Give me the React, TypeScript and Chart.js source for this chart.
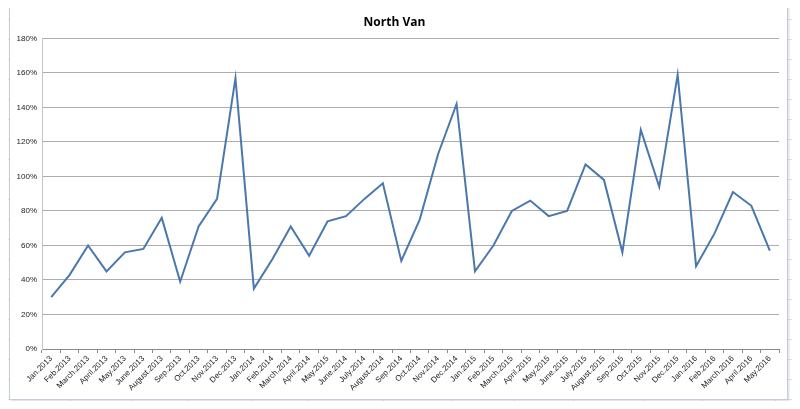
import React, { useEffect, useRef } from 'react';
import { Chart, registerables } from 'chart.js';

Chart.register(...registerables);

const months: string[] = [
  'Jan.2013', 'Feb.2013', 'March.2013', 'April.2013', 'May.2013', 'June.2013', 'August.2013',
  'Sep.2013', 'Oct.2013', 'Nov.2013', 'Dec.2013',
  'Jan.2014', 'Feb.2014', 'March.2014', 'April.2014', 'May.2015', 'June.2014', 'July.2014',
  'August.2014', 'Sep.2014', 'Oct.2014', 'Nov.2014', 'Dec.2014',
  'Jan.2015', 'Feb.2015', 'March.2015', 'April.2015', 'May.2015', 'June.2015', 'July.2015',
  'August.2015', 'Sep.2015', 'Oct.2015', 'Nov.2015', 'Dec.2015',
  'Jan.2016', 'Feb.2016', 'March.2016', 'April.2016', 'May.2016',
];

// percent values
const northVan: number[] = [
  30, 43, 60, 45, 56, 58, 76, 39, 71, 87, 157,
  35, 52, 71, 54, 74, 77, 87, 96, 51, 75, 113, 142,
  45, 60, 80, 86, 77, 80, 107, 98, 56, 127, 94, 159,
  48, 67, 91, 83, 57,
];

const yTicks = { min: 0, max: 180, step: 20 };

// spreadsheet cell borders behind the chart
const colLines = [3, 70, 132, 188, 252, 308, 383, 451, 514, 573, 643, 702, 775];

const App: React.FC = () => {
  const canvasRef = useRef<HTMLCanvasElement | null>(null);
  const chartRef = useRef<Chart | null>(null);

  useEffect(() => {
    if (!canvasRef.current) return;
    if (chartRef.current) chartRef.current.destroy();

    const tickFont = { family: "'Liberation Sans', Arial, sans-serif", size: 8 };

    chartRef.current = new Chart(canvasRef.current, {
      type: 'line',
      data: {
        labels: months,
        datasets: [
          {
            label: 'North Van',
            data: northVan,
            borderColor: '#4a78ad',
            borderWidth: 2,
            pointRadius: 0,
            tension: 0,
            fill: false,
          },
        ],
      },
      options: {
        animation: false,
        responsive: true,
        maintainAspectRatio: false,
        layout: { padding: { left: 0, right: 8, top: 0, bottom: 0 } },
        plugins: {
          legend: { display: false },
          tooltip: { enabled: false },
          title: {
            display: true,
            text: 'North Van',
            color: '#000',
            font: { family: "'Open Sans', 'Liberation Sans', sans-serif", size: 12, weight: 'bold' },
            padding: { top: 7, bottom: 9 },
          },
        },
        scales: {
          x: {
            offset: true,
            grid: {
              offset: true,
              drawOnChartArea: false,
              drawTicks: true,
              tickLength: 4,
              color: '#8a8a8a',
            },
            border: { display: true, color: '#8a8a8a' },
            ticks: {
              autoSkip: false,
              minRotation: 45,
              maxRotation: 45,
              padding: 1,
              color: '#222',
              font: tickFont,
            },
            afterFit: (scale: any) => {
              scale.height = 50;
            },
          },
          y: {
            min: yTicks.min,
            max: yTicks.max,
            grid: { color: '#adadad', drawTicks: false },
            border: { display: true, color: '#c4c4c4' },
            ticks: {
              stepSize: yTicks.step,
              padding: 5,
              color: '#222',
              font: tickFont,
              callback: (v: any) => v + '%',
            },
            afterFit: (scale: any) => {
              scale.width = 32;
            },
          },
        },
      },
    });

    return () => {
      chartRef.current?.destroy();
      chartRef.current = null;
    };
  }, []);

  return (
    <div
      style={{
        position: 'relative',
        width: 800,
        height: 409,
        margin: -8,
        overflow: 'hidden',
        background: '#fff',
        backgroundImage: 'repeating-linear-gradient(to bottom, transparent 0px, transparent 19px, #dde3ec 19px, #dde3ec 20px)',
      }}
    >
      {colLines.map((x) => (
        <div
          key={x}
          style={{ position: 'absolute', left: x, top: 0, width: 1, height: 409, background: '#dde3ec' }}
        />
      ))}
      <div
        style={{
          position: 'absolute',
          left: 9,
          top: 7,
          width: 779,
          height: 393,
          boxSizing: 'border-box',
          border: '1px solid #c3ccd7',
          background: '#fff',
          boxShadow: '1px 1px 2px rgba(120,130,150,0.3)',
        }}
      >
        <canvas ref={canvasRef} />
      </div>
    </div>
  );
};

export default App;
